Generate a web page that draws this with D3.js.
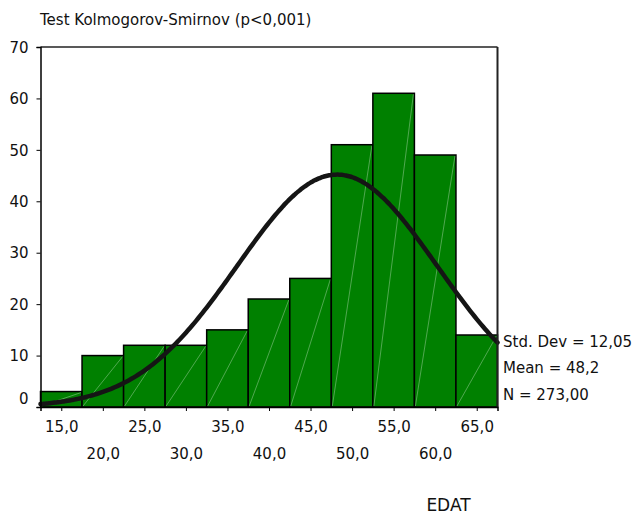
<!DOCTYPE html>
<html>
<head>
<meta charset="utf-8">
<script src="https://cdn.jsdelivr.net/npm/d3@7"></script>
<style>
  html, body { margin: 0; padding: 0; background: #fff; }
  svg { display: block; font-family: "DejaVu Sans", sans-serif; }
</style>
</head>
<body>
<svg id="chart" width="635" height="516"></svg>
<script>
// Age histogram (EDAT) with fitted normal curve
const binCenters = [15, 20, 25, 30, 35, 40, 45, 50, 55, 60, 65];
const counts     = [3, 10, 12, 12, 15, 21, 25, 51, 61, 49, 14];
const yTicks     = [0, 10, 20, 30, 40, 50, 60, 70];
const xTickLabels = ["15,0", "20,0", "25,0", "30,0", "35,0", "40,0", "45,0", "50,0", "55,0", "60,0", "65,0"];
const statLabels = ["Std. Dev = 12,05", "Mean = 48,2", "N = 273,00"];
const stdDev = 12.05, mean = 48.2, nTotal = 273;
const binWidth = 5;

const svg = d3.select("#chart");
const plotLeft = 40.5, plotRight = 497.5, plotTop = 47, plotBottom = 407;

const x = d3.scaleLinear().domain([12.5, 67.5]).range([plotLeft, plotRight]);
const y = d3.scaleLinear().domain([0, 70]).range([plotBottom, plotTop]);

// Title
svg.append("text")
  .attr("x", 40).attr("y", 25)
  .attr("font-size", 15).attr("fill", "#111")
  .text("Test Kolmogorov-Smirnov (p<0,001)");

// Bars
const bars = svg.append("g");
binCenters.forEach((c, i) => {
  const x0 = x(c - binWidth / 2), x1 = x(c + binWidth / 2);
  const y0 = y(0), y1 = y(counts[i]);
  bars.append("rect")
    .attr("x", x0).attr("y", y1)
    .attr("width", x1 - x0).attr("height", y0 - y1)
    .attr("fill", "#008000")
    .attr("stroke", "#000").attr("stroke-width", 1.5);
  bars.append("line")
    .attr("x1", x0 + 1).attr("y1", y0 - 1)
    .attr("x2", x1 - 1).attr("y2", y1 + 1)
    .attr("stroke", "rgba(255,255,255,0.45)")
    .attr("stroke-width", 0.7);
});

// Normal curve from the stated mean, std. dev and N
const pts = d3.range(12.5, 67.5001, 0.25).map(v => [
  v,
  nTotal * binWidth / (stdDev * Math.sqrt(2 * Math.PI)) *
    Math.exp(-((v - mean) ** 2) / (2 * stdDev * stdDev))
]);
svg.append("path")
  .datum(pts)
  .attr("d", d3.line().x(d => x(d[0])).y(d => y(d[1])).curve(d3.curveBasis))
  .attr("fill", "none")
  .attr("stroke", "#151515")
  .attr("stroke-width", 4.5)
  .attr("stroke-linecap", "round");

// Frame: top and right edges
svg.append("line")
  .attr("x1", plotLeft).attr("x2", plotRight).attr("y1", plotTop).attr("y2", plotTop)
  .attr("stroke", "#222").attr("stroke-width", 1.5);
svg.append("line")
  .attr("x1", plotRight).attr("x2", plotRight).attr("y1", plotTop).attr("y2", plotBottom)
  .attr("stroke", "#222").attr("stroke-width", 2);

// Y axis
const yAxis = svg.append("g")
  .attr("transform", `translate(${plotLeft},0)`)
  .call(d3.axisLeft(y).tickValues(yTicks).tickSize(4).tickPadding(8).tickFormat(d3.format("d")));
yAxis.select(".domain").attr("stroke", "#000").attr("stroke-width", 1.5);
yAxis.selectAll(".tick line").attr("stroke", "#000");
yAxis.selectAll(".tick text")
  .attr("font-size", 15).attr("font-family", "DejaVu Sans, sans-serif").attr("fill", "#111")
  .attr("dy", d => d === 0 ? "-0.25em" : "0.35em");

// X axis
const xAxis = svg.append("g")
  .attr("transform", `translate(0,${plotBottom})`)
  .call(d3.axisBottom(x).tickValues(binCenters).tickSize(4).tickFormat((d, i) => xTickLabels[i]));
xAxis.select(".domain").attr("stroke", "#000").attr("stroke-width", 1.5);
xAxis.selectAll(".tick line").attr("stroke", "#000");
xAxis.selectAll(".tick text")
  .attr("font-size", 15).attr("font-family", "DejaVu Sans, sans-serif").attr("fill", "#111")
  .attr("dy", null)
  .attr("y", (d, i) => i % 2 === 0 ? 25 : 51.5);

// Summary statistics
statLabels.forEach((t, i) => {
  svg.append("text")
    .attr("x", 503).attr("y", 346.5 + i * 26.7)
    .attr("font-size", 15).attr("fill", "#111")
    .text(t);
});

// Axis title
svg.append("text")
  .attr("x", 448.5).attr("y", 510.5)
  .attr("text-anchor", "middle")
  .attr("font-size", 17).attr("fill", "#111")
  .text("EDAT");
</script>
</body>
</html>
